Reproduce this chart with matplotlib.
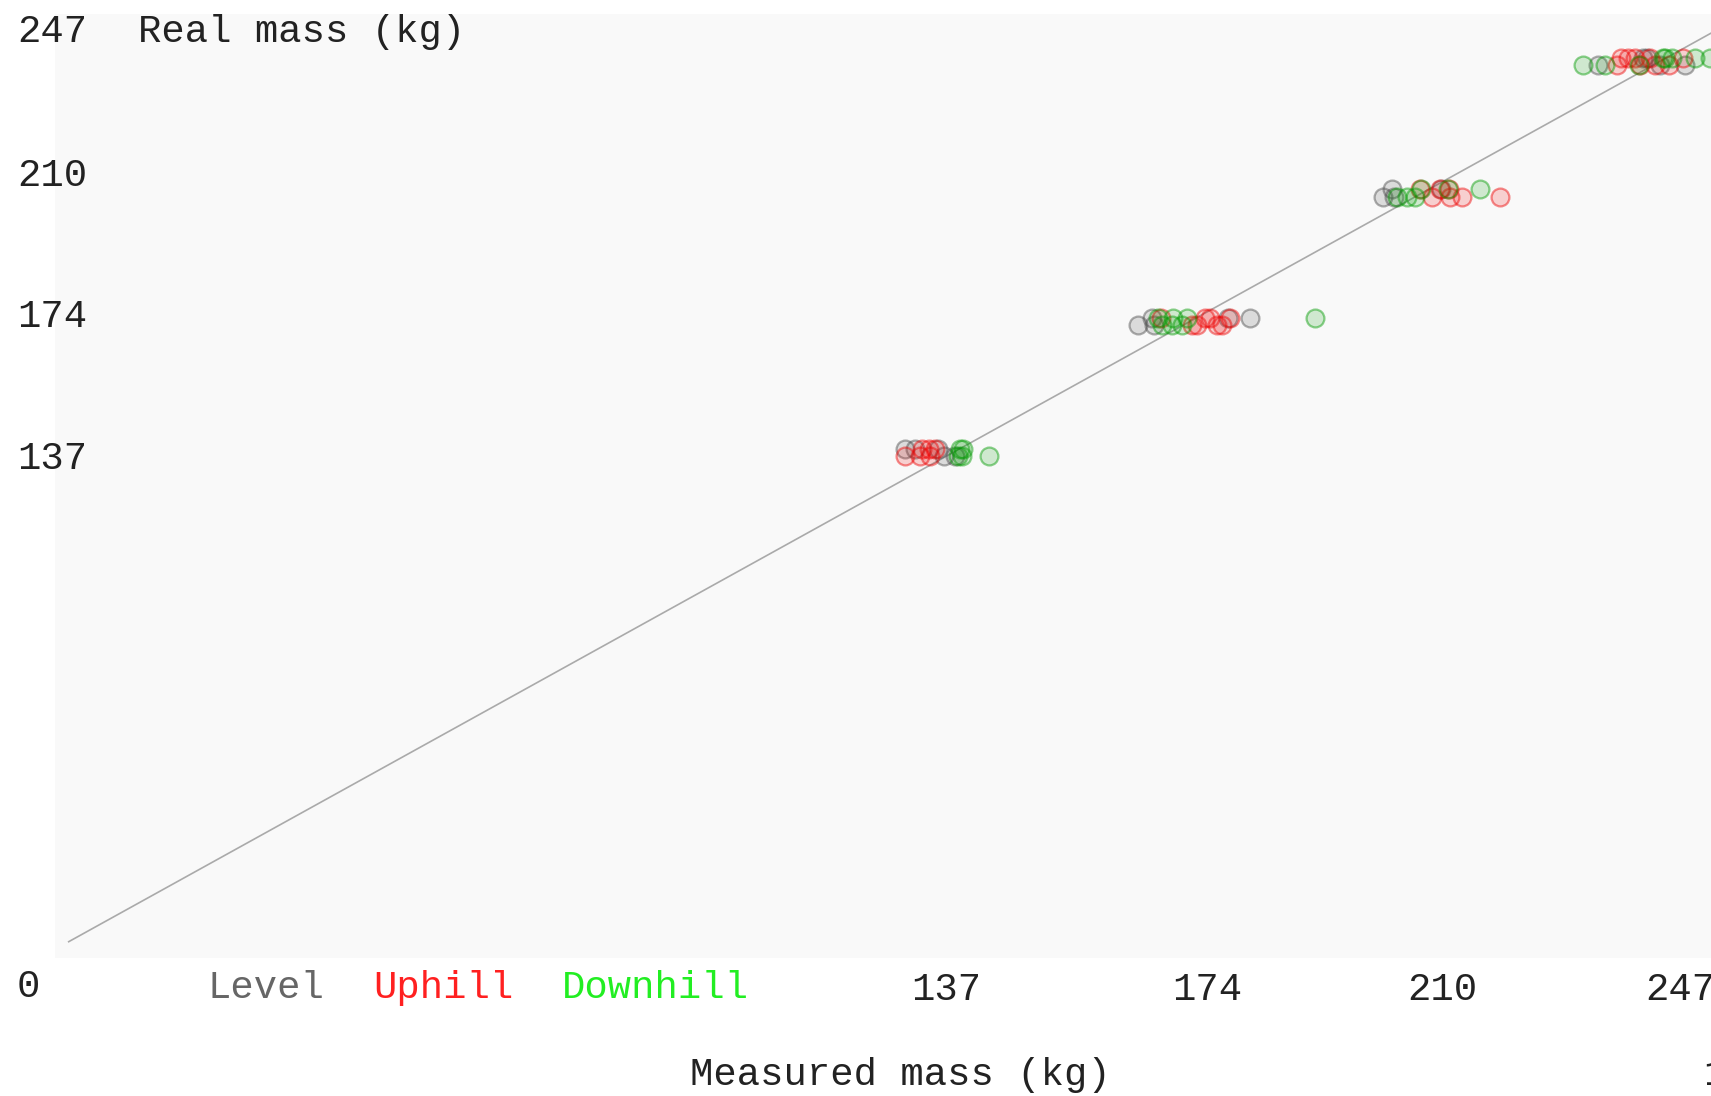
import matplotlib
matplotlib.use("Agg")
from matplotlib import pyplot as plt
from matplotlib.colors import to_rgba

W, H = 1711, 1096

# measured vs real mass, one list pair per slope type
level_x = [130.8, 132.5, 136.0, 137.0, 138.7, 167.3, 169.5, 169.9, 181.5, 184.9,
           205.7, 207.1, 207.4, 214.8, 239.3, 246.4, 247.0, 249.0, 253.0]
level_y = [139.3, 139.3, 139.3, 137.3, 137.3, 174.5, 176.3, 174.5, 176.3, 176.3,
           210.8, 213.0, 210.8, 213.0, 247.9, 250.0, 250.0, 247.9, 247.9]

uphill_x = [130.8, 133.2, 133.5, 134.6, 134.8, 135.5, 171.0, 175.8, 176.5, 177.8,
            178.6, 179.7, 180.5, 181.7, 211.5, 213.3, 214.6, 216.0, 216.2, 218.0,
            224.0, 242.3, 243.0, 244.0, 245.1, 245.9, 247.5, 248.3, 250.5, 252.6]
uphill_y = [137.3, 137.3, 139.3, 139.3, 137.3, 139.3, 176.3, 174.5, 174.5, 176.3,
            176.3, 174.5, 174.5, 176.3, 213.0, 210.8, 213.0, 213.0, 210.8, 210.8,
            210.8, 247.9, 250.0, 250.0, 250.0, 247.9, 250.0, 247.9, 247.9, 250.0]

downhill_x = [139.2, 139.5, 139.8, 140.0, 144.0, 170.5, 171.1, 172.7, 172.8, 174.2,
              175.0, 195.0, 207.8, 209.4, 210.7, 211.7, 215.8, 220.9, 237.0, 240.4,
              245.8, 249.5, 249.8, 250.9, 254.5, 256.9]
downhill_y = [137.3, 139.3, 137.3, 139.3, 137.3, 176.3, 174.5, 174.5, 176.3, 174.5,
              176.3, 176.3, 210.8, 210.8, 210.8, 213.0, 213.0, 213.0, 247.9, 247.9,
              247.9, 250.0, 250.0, 250.0, 250.0, 250.0]

tick_labels = ["137", "174", "210", "247"]
xtick_pos = [137.4, 178.1, 214.9, 252.2]
ytick_pos = [137.7, 177.8, 217.6, 258.4]

series = [
    ("Level", level_x, level_y, "#4a4a4a", "#666666"),
    ("Uphill", uphill_x, uphill_y, "#ee0000", "#ff2020"),
    ("Downhill", downhill_x, downhill_y, "#009a00", "#22ee22"),
]

FONT = "Liberation Mono"
FS = 28


def fx(px):
    return px / W


def fy(py):
    return 1 - py / H


fig = plt.figure(figsize=(W / 100, H / 100), dpi=100)
fig.patch.set_facecolor("white")

left, top, bottom, right = 55, 14, 958, 1900
ax = fig.add_axes([fx(left), fy(bottom), (right - left) / W, (bottom - top) / H])
ax.set_facecolor("#f9f9f9")
for sp in ax.spines.values():
    sp.set_visible(False)

# pixel -> data: x0 at 68.7px, 6.39 px/kg; y0 at 941.7px, 3.535 px/kg
ax.set_xlim((left - 68.7) / 6.39, (right - 68.7) / 6.39)
ax.set_ylim((941.7 - bottom) / 3.535, (941.7 - top) / 3.535)

ax.plot([0, 300], [0, 300], color="#aaaaaa", lw=1.2, zorder=1)

for name, xs, ys, col, _ in series:
    ax.scatter(xs, ys, s=165, facecolors=to_rgba(col, 0.17),
               edgecolors=to_rgba(col, 0.45), linewidths=1.6, zorder=2)

ax.set_xticks(xtick_pos, tick_labels)
ax.set_yticks(ytick_pos, tick_labels)
ax.tick_params(length=0, labelsize=FS, colors="#222222")
ax.tick_params(axis="x", pad=10)
ax.tick_params(axis="y", pad=27)
for lbl in ax.get_xticklabels() + ax.get_yticklabels():
    lbl.set_fontfamily(FONT)
for lbl in ax.get_yticklabels():
    lbl.set_ha("left")

txt = dict(fontsize=FS, fontfamily=FONT, va="center")
fig.text(fx(17), fy(987), "0", color="#222222", **txt)
fig.text(fx(138), fy(32), "Real mass (kg)", color="#222222", **txt)
fig.text(fx(690), fy(1075), "Measured mass (kg)", color="#222222", **txt)
fig.text(fx(1703), fy(1075), "1", color="#222222", **txt)

legend_x = [208, 373, 562]
for (name, _, _, _, tcol), lx in zip(series, legend_x):
    fig.text(fx(lx), fy(988), name, color=tcol, **txt)

fig.savefig("out.png", dpi=100)
